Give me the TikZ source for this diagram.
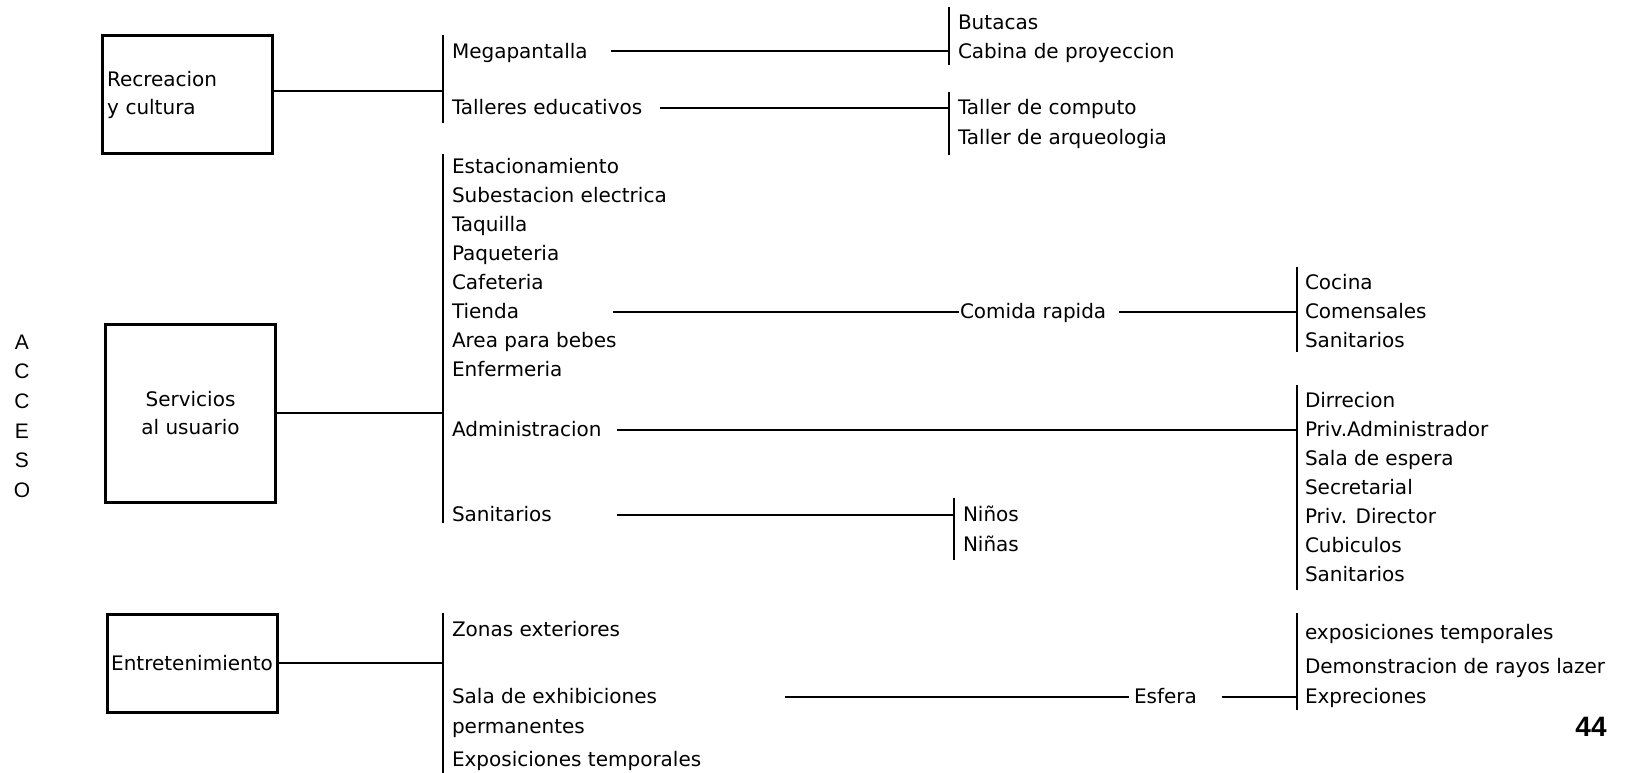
\documentclass[tikz,border=0pt]{standalone}
\usepackage{fontspec}
\setmainfont{DejaVu Sans}
\newfontfamily\accfont{Liberation Sans}
\usetikzlibrary{positioning, calc}

\begin{document}
\begin{tikzpicture}[x=1pt, y=-1pt, line width=2pt,
    every node/.style={font=\fontsize{20}{28}\selectfont},
    item/.style={anchor=mid west, inner sep=0pt, yshift=-4pt},
    box/.style={draw, line width=3pt, minimum width=170pt, inner xsep=4pt}]
  \useasboundingbox (0,0) rectangle (1631,773);

  % acceso
  \foreach \l [count=\i from 0] in {A,C,C,E,S,O}
    \node (acc\i) at (22,342+29.6*\i) {\accfont\fontsize{21}{24}\selectfont \l};

  % boxes
  \node (rec) [box, minimum height=118pt, text width=161pt, align=left] at (187.5,95) {Recreacion\\y cultura};
  \node (srv) [box, minimum height=178pt, align=center] at (190.5,413) {Servicios\\al usuario};
  \node (ent) [box, minimum height=98pt] at (192,663) {Entretenimiento};

  % main bars
  \coordinate (recT) at (443,35);  \coordinate (recB) at (443,123);
  \coordinate (srvT) at (443,154); \coordinate (srvB) at (443,523);
  \coordinate (entT) at (443,613); \coordinate (entB) at (443,773);
  \draw (recT) -- (recB) (srvT) -- (srvB) (entT) -- (entB);
  \draw ([yshift=4pt]rec.east) -- ([yshift=4pt]rec.east -| recT);
  \draw (srv.east) -- (srv.east -| srvT);
  \draw (ent.east) -- (ent.east -| entT);

  \node[item] (mega) at (451,52) {Megapantalla};
  \node[item] (tall) at (451,108) {Talleres educativos};
  \foreach \t [count=\i from 0] in {Estacionamiento, Subestacion electrica, Taquilla, Paqueteria, Cafeteria, Tienda, Area para bebes, Enfermeria}
    \node[item] (serv\i) at (451,167+29*\i) {\t};
  \node[item] (adm) at (451,430) {Administracion};
  \node[item] (san) at (451,515) {Sanitarios};
  \node[item] (zonas) at (451,630) {Zonas exteriores};
  \node[item] (sala) at (451,697) {Sala de exhibiciones};
  \node[item] (perm) at (451,727) {permanentes};
  \node[item] (expo) at (451,760) {Exposiciones temporales};

  % megapantalla, talleres
  \coordinate (megaT) at (949,7);  \coordinate (megaB) at (949,65);
  \coordinate (tallT) at (949,92); \coordinate (tallB) at (949,155);
  \draw (megaT) -- (megaB) (tallT) -- (tallB);
  \node[item] (but) at (957,23) {Butacas};
  \node[item] (cab) at (957,52) {Cabina de proyeccion};
  \node[item] (comp) at (957,108) {Taller de computo};
  \node[item] (arq) at (957,138) {Taller de arqueologia};
  \coordinate (megaL) at (611,51);
  \coordinate (tallL) at (660,108);
  \draw (megaL) -- (megaL -| megaT);
  \draw (tallL) -- (tallL -| tallT);

  % comida rapida
  \coordinate (tiendaL) at (613,312);
  \node[item] (comida) at (959,312) {Comida rapida};
  \draw (tiendaL) -- (tiendaL -| comida.west);
  \coordinate (comT) at (1297,267); \coordinate (comB) at (1297,352);
  \draw (comT) -- (comB);
  \draw ([xshift=12pt]tiendaL -| comida.east) -- (tiendaL -| comT);
  \foreach \t [count=\i from 0] in {Cocina, Comensales, Sanitarios}
    \node[item] (com\i) at (1304,283+29*\i) {\t};

  % administracion
  \coordinate (admL) at (617,430);
  \coordinate (admT) at (1297,385); \coordinate (admB) at (1297,590);
  \draw (admT) -- (admB);
  \draw (admL) -- (admL -| admT);
  \foreach \t [count=\i from 0] in {Dirrecion, Priv.Administrador, Sala de espera, Secretarial, Priv. Director, Cubiculos, Sanitarios}
    \node[item] (adm\i) at (1304,401+29*\i) {\t};

  % sanitarios
  \coordinate (sanL) at (617,515);
  \coordinate (sanT) at (954,498); \coordinate (sanB) at (954,560);
  \draw (sanT) -- (sanB);
  \draw (sanL) -- (sanL -| sanT);
  \node[item] (ninos) at (962,515) {Niños};
  \node[item] (ninas) at (962,545) {Niñas};

  % esfera
  \coordinate (salaL) at (785,697);
  \node[item] (esf) at (1133,697) {Esfera};
  \draw (salaL) -- ([xshift=-4pt]salaL -| esf.west);
  \coordinate (esfT) at (1297,613); \coordinate (esfB) at (1297,710);
  \draw (esfT) -- (esfB);
  \draw ([xshift=24pt]salaL -| esf.east) -- (salaL -| esfT);
  \node[item] (ext1) at (1304,633) {exposiciones temporales};
  \node[item] (ext2) at (1304,667) {Demonstracion de rayos lazer};
  \node[item] (ext3) at (1304,697) {Expreciones};

  \node (page) at (1591,727) {\accfont\bfseries\fontsize{28}{30}\selectfont 44};
\end{tikzpicture}
\end{document}
